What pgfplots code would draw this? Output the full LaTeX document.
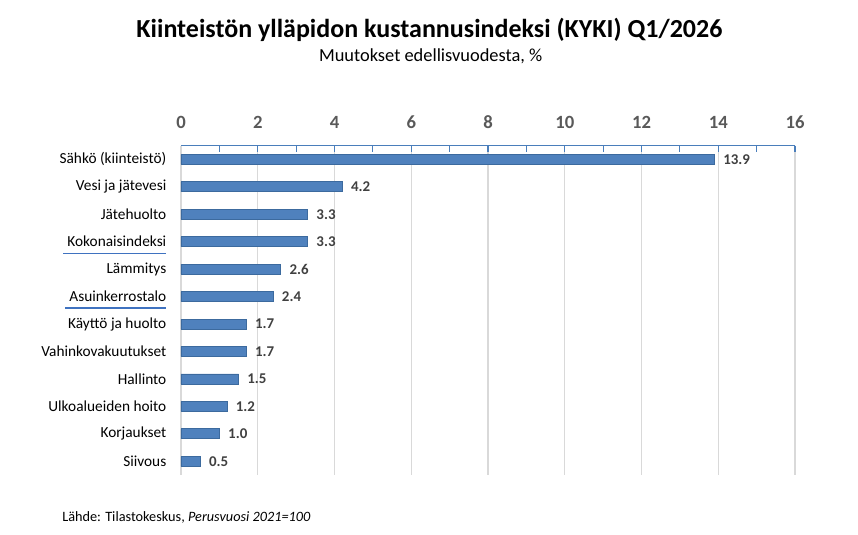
\documentclass[border=0pt]{standalone}
\usepackage{pgfplots}
\pgfplotsset{compat=1.18}
\usepackage{fontspec}
\setmainfont{Carlito}
\definecolor{barblue}{HTML}{4F81BD}
\definecolor{baredge}{HTML}{3C6A9E}
\definecolor{axblue}{HTML}{4A7EBB}
\definecolor{ulblue}{HTML}{3F72C0}
\definecolor{gridgray}{HTML}{D9D9D9}
\definecolor{ticktext}{HTML}{595959}
\definecolor{lbltext}{HTML}{404040}
\newcommand\ulb[1]{\setbox0\hbox{#1}\leavevmode\rlap{\kern-3pt\smash{\textcolor{ulblue}{\rule[-5pt]{\dimexpr\wd0+3pt\relax}{0.8pt}}}}\box0}
\begin{document}
\begin{tikzpicture}
\path[use as bounding box] (0,0) rectangle (643.5pt,401.25pt);
\node[font=\bfseries\fontsize{19.5}{22}\selectfont] at (322pt,378.5pt) {Kiinteistön ylläpidon kustannusindeksi (KYKI) Q1/2026};
\node[font=\fontsize{13.8}{16}\selectfont] at (323pt,359pt) {Muutokset edellisvuodesta, \%};
\node[anchor=west,font=\fontsize{10.7}{12}\selectfont,inner sep=0pt] at (46.5pt,13.5pt) {Lähde: Tilastokeskus, \textit{Perusvuosi 2021=100}};
\begin{axis}[
  at={(135.75pt,45pt)}, anchor=south west,
  scale only axis, width=460.5pt, height=247pt,
  xmin=0, xmax=16, ymin=-0.5, ymax=11.5,
  y dir=reverse,
  axis x line*=top,
  axis y line*=left,
  x axis line style={axblue, line width=1pt, -},
  y axis line style={gridgray, line width=0.8pt, -},
  xtick={0,2,...,16},
  minor xtick={1,3,...,15},
  xticklabel pos=top,
  xtick style={axblue, line width=0.8pt},
  minor tick length=4.5pt, major tick length=4.5pt,
  tick align=inside,
  xmajorgrids,
  major grid style={gridgray, line width=0.8pt},
  xticklabel style={font=\bfseries\fontsize{14}{16}\selectfont, text=ticktext, yshift=9pt},
  /pgf/number format/assume math mode=true,
  ytick={0,...,11},
  ytick style={draw=none},
  yticklabels={Sähkö (kiinteistö), Vesi ja jätevesi, Jätehuolto, \ulb{Kokonaisindeksi}, Lämmitys, \ulb{Asuinkerrostalo}, Käyttö ja huolto, Vahinkovakuutukset, Hallinto, Ulkoalueiden hoito, Korjaukset, Siivous},
  yticklabel style={font=\fontsize{11.5}{13}\selectfont, text=black, xshift=-3pt},
  xbar, bar width=7.5pt,
  nodes near coords,
  nodes near coords style={font=\bfseries\fontsize{11.2}{13}\selectfont, text=lbltext, xshift=3pt, /pgf/number format/.cd, fixed, fixed zerofill, precision=1},
]
\addplot[fill=barblue, draw=baredge, line width=0.6pt] coordinates {
(13.9,0) (4.2,1) (3.3,2) (3.3,3) (2.6,4) (2.4,5) (1.7,6) (1.7,7) (1.5,8) (1.2,9) (1.0,10) (0.5,11)};
\end{axis}
\end{tikzpicture}
\end{document}
